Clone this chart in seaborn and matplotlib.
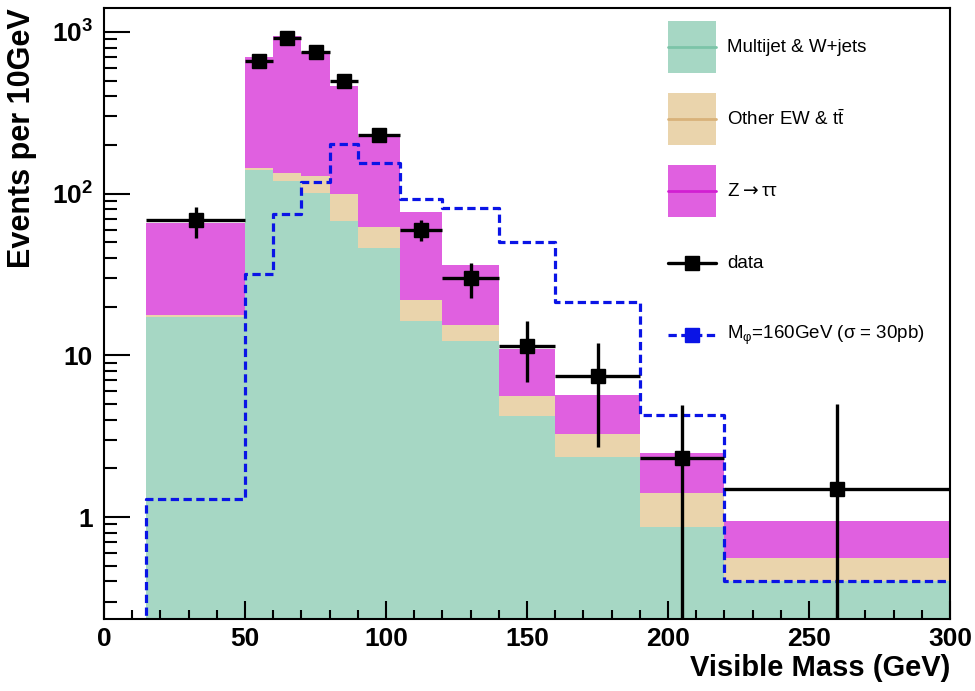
import numpy as np
import matplotlib
matplotlib.use("Agg")
import matplotlib.pyplot as plt
import seaborn as sns
from matplotlib.lines import Line2D
from matplotlib.patches import Rectangle
from matplotlib.ticker import FixedLocator, FuncFormatter, MultipleLocator, LogLocator, NullFormatter

# ---------------------------------------------------------------- data
# visible-mass binning (GeV)
edges = [15, 50, 60, 70, 80, 90, 105, 120, 140, 160, 190, 220, 300]

# background expectations, events per 10 GeV
multijet_wjets = [17.2, 141, 119, 101, 68, 46, 16.4, 12.2, 4.2, 2.35, 0.87, 0.40]
other_ew_ttbar = [0.5, 3, 15, 28, 32, 16, 5.6, 3.3, 1.4, 0.9, 0.54, 0.16]
z_tautau = [48.3, 557, 810, 624, 364, 163, 55.5, 20.5, 5.4, 2.45, 1.07, 0.38]

# observed data with asymmetric uncertainties
data_vals = [69, 665, 915, 755, 500, 231, 60, 29.9, 11.5, 7.4, 2.31, 1.49]
data_err_up = [14, 26, 30, 27, 22, 12, 9, 7.6, 4.7, 4.6, 2.6, 3.5]
data_err_down = [16, 26, 30, 27, 22, 12, 9.4, 7.4, 4.7, 4.7, 2.31, 1.49]

# signal hypothesis, M_phi = 160 GeV
signal_edges = [0, 15, 50, 60, 70, 80, 90, 105, 120, 140, 160, 190, 220, 300]
signal_vals = [0, 1.29, 32, 75, 118, 204, 155, 93, 82, 50, 21.5, 4.26, 0.40]

labels = ["Multijet & W+jets", "Other EW & t$\\mathregular{\\bar{t}}$",
          "Z$\\rightarrow$\u03c4\u03c4", "data",
          "M$\\mathregular{_{\u03c6}}$=160GeV (\u03c3 = 30pb)"]

# ---------------------------------------------------------------- style
sns.set_style("ticks")
plt.rcParams["font.family"] = ["Liberation Sans", "DejaVu Sans"]
plt.rcParams.update({
    "axes.linewidth": 1.5,
    "text.color": "black",
    "axes.labelcolor": "black",
    "axes.edgecolor": "black",
    "xtick.color": "black",
    "ytick.color": "black",
})

green_fill, green_line = "#a6d7c4", "#7cc4a8"
tan_fill, tan_line = "#ead4ac", "#d9b27a"
mag_fill, mag_line = "#e060e0", "#d21fd2"
sig_blue = "#0a14e6"

fig = plt.figure(figsize=(9.75, 6.91), dpi=100)
ax = fig.add_axes([0.1067, 0.1042, 0.8677, 0.8842])
ax.set_axisbelow(False)

e = np.asarray(edges, dtype=float)
centers = 0.5 * (e[:-1] + e[1:])
half_w = 0.5 * (e[1:] - e[:-1])

# stacked backgrounds: draw cumulative totals from the top of the stack down
stack = np.cumsum(np.vstack([multijet_wjets, other_ew_ttbar, z_tautau]), axis=0)
for heights, col in [(stack[2], mag_fill), (stack[1], tan_fill), (stack[0], green_fill)]:
    sns.histplot(x=centers, weights=heights, bins=edges, element="bars", fill=True,
                 color=col, alpha=1, linewidth=0, ax=ax, legend=False)

# signal expectation as a dashed outline
se = np.asarray(signal_edges, dtype=float)
sig_centers = 0.5 * (se[:-1] + se[1:])
sns.histplot(x=sig_centers, weights=signal_vals, bins=signal_edges, element="step",
             fill=False, color=sig_blue, linewidth=2.3, dashes=(2.6, 1.4), ax=ax,
             legend=False)

# data points with error bars
ax.errorbar(centers, data_vals, xerr=half_w, yerr=[data_err_down, data_err_up],
            fmt="s", color="black", ms=10, elinewidth=2.4, capsize=0, zorder=5)

ax.set_yscale("log")
ax.set_xlim(0, 300)
ax.set_ylim(0.234, 1406)

# axes, ticks and labels
ax.xaxis.set_major_locator(MultipleLocator(50))
ax.xaxis.set_minor_locator(MultipleLocator(10))
ax.yaxis.set_major_locator(FixedLocator([1, 10, 100, 1000]))
ax.yaxis.set_minor_locator(LogLocator(base=10, subs=np.arange(2, 10)))
ax.yaxis.set_minor_formatter(NullFormatter())


def fmt_y(v, pos):
    if v < 5:
        return "1"
    if v < 50:
        return "10"
    return "$\\mathregular{10^{%d}}$" % round(np.log10(v))


ax.yaxis.set_major_formatter(FuncFormatter(fmt_y))
ax.tick_params(axis="both", which="both", direction="in", top=False, right=False, width=1.5)
ax.tick_params(axis="y", which="major", length=19, labelsize=19, pad=8)
ax.tick_params(axis="y", which="minor", length=9.5)
ax.tick_params(axis="x", which="major", length=13, labelsize=19, pad=6)
ax.tick_params(axis="x", which="minor", length=6.5)
for lab in ax.get_xticklabels() + ax.get_yticklabels():
    lab.set_fontweight("bold")

ax.set_xlabel("Visible Mass (GeV)", fontsize=21, fontweight="bold", loc="right")
ax.xaxis.set_label_coords(1.0, -0.058)
ax.xaxis.label.set_va("top")
ax.set_ylabel("Events per 10GeV", fontsize=22, fontweight="bold", loc="top")
ax.yaxis.set_label_coords(-0.079, 1.0)

# legend, laid out ROOT-style: tall fill swatches with text centred beside them
leg_x0, leg_x1 = 0.6667, 0.7234      # swatch span, axes fraction
leg_h = 0.085                       # swatch height
leg_y0, leg_dy = 0.936, 0.1178       # first row centre and row step
text_x = 0.7364
fills = [(green_fill, green_line), (tan_fill, tan_line), (mag_fill, mag_line)]
xm = 0.5 * (leg_x0 + leg_x1)
for i, label in enumerate(labels):
    yc = leg_y0 - i * leg_dy
    if i < len(fills):
        fc, lc = fills[i]
        ax.add_patch(Rectangle((leg_x0, yc - leg_h / 2), leg_x1 - leg_x0, leg_h,
                               transform=ax.transAxes, facecolor=fc, edgecolor="none",
                               clip_on=False, zorder=6))
        ax.add_line(Line2D([leg_x0, leg_x1], [yc, yc], transform=ax.transAxes,
                           color=lc, lw=2, clip_on=False, zorder=7))
    elif i == 3:
        ax.add_line(Line2D([leg_x0, leg_x1], [yc, yc], transform=ax.transAxes,
                           color="black", lw=2.4, clip_on=False, zorder=7))
        ax.add_line(Line2D([xm], [yc], transform=ax.transAxes, color="black",
                           marker="s", ms=10, ls="none", clip_on=False, zorder=8))
    else:
        ax.add_line(Line2D([leg_x0, leg_x1], [yc, yc], transform=ax.transAxes,
                           color=sig_blue, lw=2.3, dashes=(2.6, 1.4), clip_on=False,
                           zorder=7))
        ax.add_line(Line2D([xm], [yc], transform=ax.transAxes, color=sig_blue,
                           marker="s", ms=10, ls="none", clip_on=False, zorder=8))
    ax.text(text_x, yc, label, transform=ax.transAxes, fontsize=13.5,
            ha="left", va="center", zorder=8)

fig.savefig("out.png", dpi=100)
